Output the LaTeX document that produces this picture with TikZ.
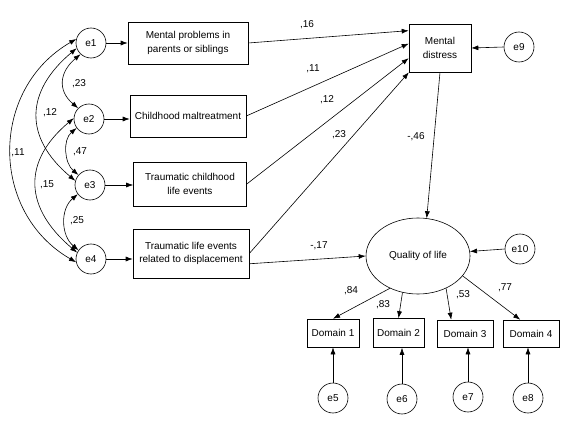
\documentclass[tikz,border=0pt]{standalone}
\usepackage{fontspec}
\setmainfont{Liberation Sans}
\usetikzlibrary{arrows.meta,shapes.geometric,calc}
\begin{document}
\begin{tikzpicture}[x=1pt,y=1pt,
  font=\fontsize{10}{13.5}\selectfont,
  lat/.style={circle,draw,minimum size=30pt,inner sep=0pt},
  obs/.style={draw,align=center,inner sep=0pt},
  arr/.style={-{Latex[length=7pt,width=5pt]}},
  cov/.style={{Latex[length=7pt,width=5pt]}-{Latex[length=7pt,width=5pt]}},
  lbl/.style={inner sep=0pt},
  line width=0.6pt]
\useasboundingbox[fill=white] (0,0) rectangle (587,424);

% error terms
\node[lat] (e1) at (91,381) {e1};
\node[lat] (e2) at (89,305) {e2};
\node[lat] (e3) at (90,239) {e3};
\node[lat] (e4) at (91,165) {e4};
\node[lat] (e9) at (519,377) {e9};
\node[lat] (e10) at (520,175) {e10};
\node[lat] (e5) at (333,26) {e5};
\node[lat] (e6) at (402,25) {e6};
\node[lat] (e7) at (468,27) {e7};
\node[lat] (e8) at (528,26) {e8};

% observed boxes
\node[obs,minimum width=120pt,minimum height=42pt] (b1) at (188,381) {Mental problems in\\parents or siblings};
\node[obs,minimum width=116pt,minimum height=42pt] (b2) at (188,308) {Childhood maltreatment};
\node[obs,minimum width=113pt,minimum height=44pt] (b3) at (190,240) {Traumatic childhood\\life events};
\node[obs,minimum width=116pt,minimum height=49pt] (b4) at (191,170.5) {Traumatic life events\\related to displacement};
\node[obs,minimum width=62pt,minimum height=48pt] (md) at (440,376) {Mental\\distress};
\node[ellipse,draw,minimum width=104pt,minimum height=76pt,inner sep=0pt] (qol) at (418,168) {Quality of life};
\node[obs,minimum width=52pt,minimum height=28pt] (d1) at (333,91) {Domain 1};
\node[obs,minimum width=51pt,minimum height=29pt] (d2) at (398.5,91) {Domain 2};
\node[obs,minimum width=56pt,minimum height=27pt] (d3) at (465,90.5) {Domain 3};
\node[obs,minimum width=56pt,minimum height=27pt] (d4) at (531,90.5) {Domain 4};

% e -> boxes
\draw[arr] (e1.east) -- (e1.east -| b1.west);
\draw[arr] (e2.east) -- (e2.east -| b2.west);
\draw[arr] (e3.east) -- (e3.east -| b3.west);
\draw[arr] (e4.east) -- (e4.east -| b4.west);

% paths to mental distress
\draw[arr] (b1.east) -- (md.151);
\draw[arr] (b2.east) -- (md.172);
\draw[arr] (b3.east) -- (md.198);
\draw[arr] (b4.east) -- (md.218);
\draw[arr] (b4.-10) -- (qol.west);
\draw[arr] (md.south) -- (qol.77);
\draw[arr] (e9.west) -- (md.east);
\draw[arr] (e10.west) -- (qol.5);

% loadings
\draw[arr] (qol.229) -- (d1.north);
\draw[arr] (qol.247) -- (d2.north);
\draw[arr] (qol.311) -- (d3.135);
\draw[arr] (qol.336) -- (d4.128);
\draw[arr] (e5.north) -- (d1.south);
\draw[arr] (e6.north) -- (e6.north |- d2.south);
\draw[arr] (e7.north) -- (e7.north |- d3.south);
\draw[arr] (e8.north) -- (e8.north |- d4.south);

% covariances
\draw[cov] (e1.227) to[out=220,in=140,looseness=1.3] (e2.135);
\draw[cov] (e2.216) to[out=220,in=140] (e3.139);
\draw[cov] (e3.217) to[out=220,in=140,looseness=1.05] (e4.145);
\draw[cov] (e1.200) to[out=220,in=140,looseness=1.3] (e3.164);
\draw[cov] (e2.177) to[out=220,in=140,looseness=1.3] (e4.155);
\draw[cov] (e1.165) to[out=210,in=150,looseness=1.15] (e4.192);

% labels
\node[lbl] (l16) at (307,399) {,16};
\node[lbl] (l11) at (313,355) {,11};
\node[lbl] (l12) at (327,324) {,12};
\node[lbl] (l23) at (339,289) {,23};
\node[lbl] (l46) at (416,287) {-,46};
\node[lbl] (l17) at (319,178) {-,17};
\node[lbl] (l84) at (351,133) {,84};
\node[lbl] (l83) at (383,119) {,83};
\node[lbl] (l53) at (463,129) {,53};
\node[lbl] (l77) at (505,136) {,77};
\node[lbl] (c23) at (79,340) {,23};
\node[lbl] (c12) at (50,311) {,12};
\node[lbl] (c11) at (18,271) {,11};
\node[lbl] (c47) at (80,272) {,47};
\node[lbl] (c15) at (47,239) {,15};
\node[lbl] (c25) at (77,203) {,25};
\end{tikzpicture}
\end{document}
